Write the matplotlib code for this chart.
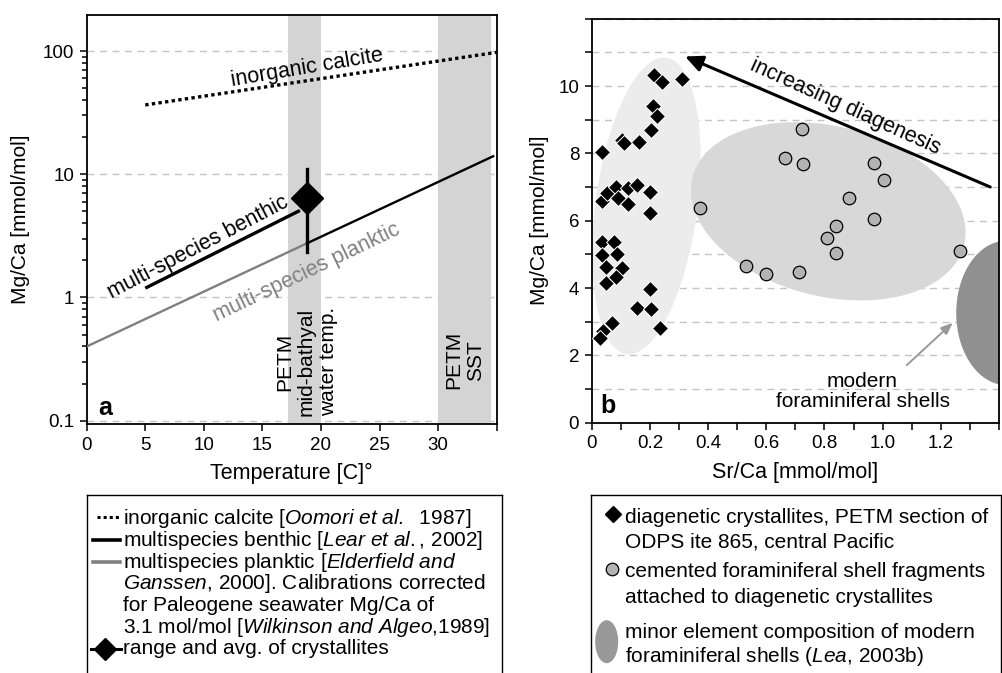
import numpy as np
import matplotlib.pyplot as plt
from matplotlib.patches import Ellipse
from matplotlib.ticker import NullFormatter

plt.rcParams['font.family'] = ['Liberation Sans', 'DejaVu Sans']
plt.rcParams['mathtext.fontset'] = 'custom'
plt.rcParams['mathtext.rm'] = 'Liberation Sans'
plt.rcParams['mathtext.it'] = 'Liberation Sans:italic'

# ---- panel a: Mg/Ca calibrations vs temperature
inorg_T = [5, 35]
inorg_mg = [36.5, 97.6]
benth_T = [5, 18.2]
benth_mg = [1.19, 5.08]
plank_T = [0, 18.8, 34.7]
plank_mg = [0.40, 2.75, 14.0]
cryst_T = [18.8]
cryst_avg = [6.4]
cryst_range = [2.32, 11.1]
band_lo = [17.2, 30.0]
band_hi = [20.0, 34.5]

# ---- panel b: Sr/Ca vs Mg/Ca
diam_sr = [0.034, 0.037, 0.054, 0.083, 0.089, 0.126, 0.124, 0.155, 0.201, 0.201,
           0.034, 0.075, 0.034, 0.086, 0.049, 0.105, 0.049, 0.083, 0.201, 0.155,
           0.204, 0.235, 0.071, 0.040, 0.029, 0.103, 0.111, 0.164, 0.203, 0.209,
           0.226, 0.214, 0.243, 0.309]
diam_mg = [8.03, 6.58, 6.81, 7.01, 6.66, 6.96, 6.50, 7.06, 6.84, 6.22,
           5.38, 5.38, 4.98, 5.01, 4.63, 4.60, 4.16, 4.34, 3.96, 3.40,
           3.37, 2.82, 2.97, 2.72, 2.53, 8.40, 8.30, 8.35, 8.69, 9.41,
           9.12, 10.33, 10.13, 10.21]
circ_sr = [0.373, 0.530, 0.600, 0.663, 0.724, 0.728, 0.711, 0.883, 0.808,
           0.839, 0.840, 0.969, 1.006, 0.972, 1.267]
circ_mg = [6.37, 4.66, 4.42, 7.85, 8.71, 7.68, 4.49, 6.66, 5.48,
           5.84, 5.03, 7.70, 7.21, 6.04, 5.11]
# field ellipses: centre, semi-axes (in Sr/Ca units on screen), tilt in degrees
ell_cx = [0.188, 0.813, 1.425]
ell_cy = [6.44, 6.28, 3.26]
ell_a = [0.514, 0.481, 0.248]
ell_b = [0.175, 0.292, 0.172]
ell_ang = [82.4, -14.0, 90.0]
ell_col = ['#ececec', '#d8d8d8', '#909090']

W, H = 1002, 673
fig = plt.figure(figsize=(W / 100, H / 100), dpi=100)


def px_axes(l, t, r, b):
    return fig.add_axes([l / W, 1 - b / H, (r - l) / W, (b - t) / H])


def style_axes(ax):
    for s in ax.spines.values():
        s.set_linewidth(1.3)
    ax.tick_params(which='both', direction='out', width=1.1, labelsize=13.5, pad=4,
                   top=False, right=False)
    ax.tick_params(which='major', length=5)
    ax.tick_params(which='minor', length=3.5)
    ax.set_axisbelow(True)
    ax.yaxis.grid(True, which='major', color='#c4c4c4', lw=1, ls=(0, (5, 4)))


# ================= panel a
ax = px_axes(86.7, 15, 496.7, 424)
ax.set_yscale('log')
ax.set_xlim(0, 35)
ax.set_ylim(0.094, 196)
style_axes(ax)
for lo, hi in zip(band_lo, band_hi):
    ax.axvspan(lo, hi, color='#d4d4d4', lw=0, zorder=1)
ax.plot(inorg_T, inorg_mg, color='k', lw=2.4, ls=(0, (1, 1)), zorder=3)
ax.plot(benth_T, benth_mg, color='k', lw=2.4, solid_capstyle='butt', zorder=3)
ax.plot(plank_T[:2], plank_mg[:2], color='#808080', lw=1.7, zorder=3)
ax.plot(plank_T[1:], plank_mg[1:], color='k', lw=1.7, zorder=3)
ax.plot([cryst_T[0], cryst_T[0]], cryst_range, color='k', lw=2.4, zorder=4)
ax.plot(cryst_T, cryst_avg, 'D', color='k', ms=16, zorder=5)

ax.set_xticks(np.arange(0, 36, 5), ['0', '5', '10', '15', '20', '25', '30', ''])
ax.set_yticks([0.1, 1, 10, 100], ['0.1', '1', '10', '100'])
ax.yaxis.set_minor_formatter(NullFormatter())
ax.set_xlabel('Temperature [C]°', fontsize=15.5, labelpad=7)
ax.set_ylabel('Mg/Ca [mmol/mol]', fontsize=15, labelpad=9)

ax.text(18.8, 72.3, 'inorganic calcite', rotation=9.5, rotation_mode='anchor',
        ha='center', va='center', fontsize=15.5)
ax.text(9.54, 2.56, 'multi-species benthic', rotation=27.5, rotation_mode='anchor',
        ha='center', va='center', fontsize=15.5)
ax.text(18.8, 1.60, 'multi-species planktic', rotation=25.5, rotation_mode='anchor',
        ha='center', va='center', fontsize=15.5, color='#808080')
ax.text(18.75, 0.30, 'PETM\nmid-bathyal\nwater temp.', rotation=90, ha='center',
        va='center', multialignment='center', fontsize=15)
ax.text(32.25, 0.31, 'PETM\nSST', rotation=90, ha='center', va='center',
        multialignment='center', fontsize=15)
ax.text(0.027, 0.022, 'a', transform=ax.transAxes, fontsize=18, fontweight='bold',
        ha='left', va='baseline')

# ================= panel b
bx = px_axes(591.7, 18.7, 999, 422.7)
bx.set_xlim(0, 1.4)
bx.set_ylim(0, 12)
style_axes(bx)

pos = bx.get_position()
sx = pos.width * W / 1.4
sy = pos.height * H / 12
t = np.linspace(0, 2 * np.pi, 240)
for cx, cy, a, b, ang, col in zip(ell_cx, ell_cy, ell_a, ell_b, ell_ang, ell_col):
    th = np.radians(ang)
    dx = a * np.cos(t) * np.cos(th) - b * np.sin(t) * np.sin(th)
    dy = a * np.cos(t) * np.sin(th) + b * np.sin(t) * np.cos(th)
    bx.fill(cx + dx, cy + dy * sx / sy, color=col, lw=0, zorder=1)

bx.plot(diam_sr, diam_mg, 'D', color='k', ms=8.6, mec='white', mew=0.7,
        ls='none', zorder=4)
bx.plot(circ_sr, circ_mg, 'o', color='#b3b3b3', ms=9, mec='k', mew=0.9,
        ls='none', zorder=4)

bx.annotate('', xy=(0.321, 10.88), xytext=(1.370, 7.00),
            arrowprops=dict(arrowstyle='-|>,head_length=0.75,head_width=0.35',
                            color='k', lw=2.2, mutation_scale=14, shrinkA=0, shrinkB=0))
bx.annotate('', xy=(1.241, 2.97), xytext=(1.083, 1.71),
            arrowprops=dict(arrowstyle='-|>,head_length=0.5,head_width=0.2',
                            color='#999999', lw=1.4, mutation_scale=14, shrinkA=0, shrinkB=0))
bx.text(0.873, 9.38, 'increasing diagenesis', rotation=-24.3, rotation_mode='anchor',
        ha='center', va='center', fontsize=15.5)
bx.text(0.931, 0.92, 'modern\nforaminiferal shells', ha='center', va='center',
        multialignment='center', fontsize=15, linespacing=1.05)
bx.text(0.02, 0.024, 'b', transform=bx.transAxes, fontsize=18, fontweight='bold',
        ha='left', va='baseline')

bx.set_xticks(np.round(np.arange(0, 1.41, 0.1), 1),
              ['0', '', '0.2', '', '0.4', '', '0.6', '', '0.8', '', '1.0', '', '1.2', '', ''])
bx.set_yticks(np.arange(0, 13, 1),
              ['0', '', '2', '', '4', '', '6', '', '8', '', '10', '', ''])
bx.set_xlabel('Sr/Ca [mmol/mol]', fontsize=15.5, labelpad=7)
bx.set_ylabel('Mg/Ca [mmol/mol]', fontsize=15, labelpad=7)

# ================= legend boxes (pixel coordinates)
lg = px_axes(86.7, 495, 501.7, 700)
lg.set_xlim(86.7, 501.7)
lg.set_ylim(700, 495)
lg.set_xticks([])
lg.set_yticks([])
for s in lg.spines.values():
    s.set_linewidth(1.0)
left_lines = [
    r'inorganic calcite [$\mathit{Oomori\ et\ al.}$  1987]',
    r'multispecies benthic [$\mathit{Lear\ et\ al.}$, 2002]',
    r'multispecies planktic [$\mathit{Elderfield\ and}$',
    r'$\mathit{Ganssen}$, 2000]. Calibrations corrected',
    'for Paleogene seawater Mg/Ca of',
    r'3.1 mol/mol [$\mathit{Wilkinson\ and\ Algeo}$,1989]',
    'range and avg. of crystallites',
]
base = 524.3
for i, s in enumerate(left_lines):
    lg.text(123.3, base + i * 21.7, s, fontsize=15, ha='left', va='baseline')
lg.plot([96.7, 119], [516.7, 516.7], color='k', lw=2.2, ls=(0, (1, 1)))
lg.plot([93, 120], [539.5, 539.5], color='k', lw=2.6)
lg.plot([93, 120], [561.5, 561.5], color='#808080', lw=2.6)
lg.plot([91.5, 121], [648.5, 648.5], color='k', lw=2.2)
lg.plot([105], [648.5], 'D', color='k', ms=11)

rg = px_axes(590.7, 495, 1000.5, 700)
rg.set_xlim(590.7, 1000.5)
rg.set_ylim(700, 495)
rg.set_xticks([])
rg.set_yticks([])
for s in rg.spines.values():
    s.set_linewidth(1.0)
right_lines = [
    'diagenetic crystallites, PETM section of',
    'ODPS ite 865, central Pacific',
    'cemented foraminiferal shell fragments',
    'attached to diagenetic crystallites',
    'minor element composition of modern',
    r'foraminiferal shells ($\mathit{Lea}$, 2003b)',
]
right_base = [523.3, 547.3, 576.7, 603.3, 638.3, 661.7]
for s, yb in zip(right_lines, right_base):
    rg.text(625, yb, s, fontsize=15, ha='left', va='baseline')
rg.plot([613.3], [514], 'D', color='k', ms=8.5)
rg.plot([611.7], [568.5], 'o', color='#b3b3b3', mec='k', mew=0.9, ms=9)
rg.add_patch(Ellipse((606.7, 641.7), 23, 43, color='#999999', lw=0))

fig.savefig('out.png', dpi=100)
